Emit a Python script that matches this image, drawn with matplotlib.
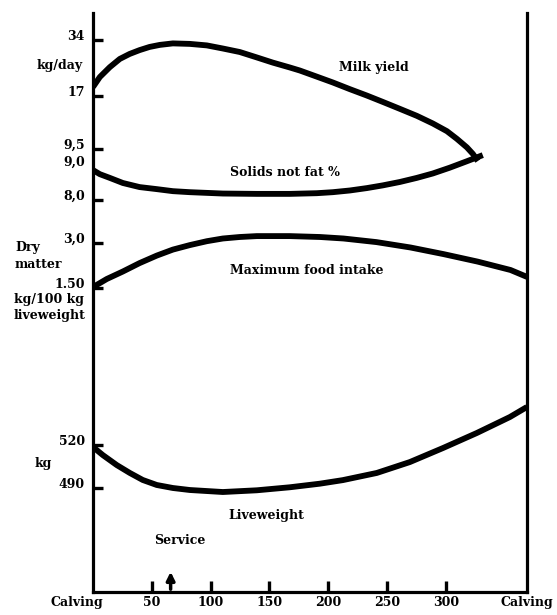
import numpy as np
import matplotlib.pyplot as plt
from matplotlib.transforms import ScaledTranslation

# Lactation cycle of a dairy cow, calving to calving (days)
milk_days = [0, 5.8, 14.3, 22.8, 31.1, 39.6, 48.1, 56.8, 67.9, 82.3, 96.8, 110.4, 124.8, 139.3, 152.9,
             167.3, 175.9, 190.3, 203.9, 218.4, 232.8, 246.4, 260.9, 275.3, 288.9, 300.9, 309.4, 317.9, 323.0, 327.2]
milk_yield = [19.0, 21.5, 24.3, 26.9, 28.6, 30.0, 31.2, 32.0, 32.6, 32.4, 31.8, 30.6, 29.3, 27.4, 25.7,
              24.2, 23.3, 21.6, 20.1, 18.5, 17.1, 15.8, 14.5, 13.3, 12.1, 11.0, 10.0, 9.0, 8.3, 7.6]

snf_days = [0, 5.8, 14.3, 25.4, 39.6, 54.2, 67.9, 82.3, 110.4, 139.3, 167.3, 190.3, 203.9, 218.4,
            232.8, 246.4, 260.9, 275.3, 288.9, 303.3, 317.9, 331.4]
snf_pct = [8.88, 8.76, 8.65, 8.50, 8.38, 8.32, 8.26, 8.23, 8.19, 8.18, 8.18, 8.20, 8.23, 8.28,
           8.35, 8.43, 8.53, 8.65, 8.78, 8.95, 9.14, 9.32]

intake_days = [0, 11.7, 25.4, 39.6, 54.2, 67.9, 82.3, 96.8, 110.4, 124.8, 139.3, 167.3, 193, 213,
               241, 270, 298, 327, 355, 369]
food_intake = [1.53, 1.8, 2.05, 2.33, 2.58, 2.78, 2.93, 3.06, 3.15, 3.2, 3.23, 3.23, 3.2, 3.15,
               3.03, 2.85, 2.63, 2.38, 2.1, 1.87]

weight_days = [0, 8.3, 20.2, 31.3, 42.3, 54.2, 67.9, 82.3, 110.4, 139.3, 167.3, 192.8, 212.4,
               241.3, 269.4, 297.6, 326.4, 354.4, 368.9]
liveweight = [518.6, 513.0, 506.0, 500.5, 495.6, 492.1, 490.0, 488.6, 487.2, 488.4, 490.5, 493.0, 495.5,
              500.5, 508.1, 517.9, 528.4, 539.5, 546.5]

service_day = 66
cycle_end = 369
day_ticks = [50, 100, 150, 200, 250, 300]

milk_ticks, milk_labels = [34, 17], ["34", "17"]
snf_ticks, snf_labels = [9.5, 9.0, 8.0], ["9,5", "9,0", "8,0"]
intake_ticks, intake_labels = [3.0, 1.5], ["3,0", "1.50"]
weight_ticks, weight_labels = [520, 490], ["520", "490"]

plt.rcParams['font.family'] = 'DejaVu Serif'
plt.rcParams['font.weight'] = 'bold'
plt.rcParams['font.size'] = 9

W, H = 557, 615
fig = plt.figure(figsize=(W / 100, H / 100), dpi=100)
# plot box in pixels: left 93, right 527, top 13, bottom 592
rect = [93 / W, (H - 592) / H, 434 / W, 579 / H]
ax = fig.add_axes(rect)
ax.set_xlim(0, cycle_end)
ax.set_ylim(0, 1)
ax.spines['top'].set_visible(False)
for s in ['left', 'right', 'bottom']:
    ax.spines[s].set_linewidth(2.3)
ax.set_yticks([])
ax.set_xticks([0] + day_ticks + [cycle_end], ["Calving"] + [str(d) for d in day_ticks] + ["Calving"])
ax.tick_params(axis='x', direction='in', length=8, width=2.4, pad=3)
ticks = ax.xaxis.get_major_ticks()
ticks[0].tick1line.set_visible(False)
ticks[-1].tick1line.set_visible(False)
lab = ax.get_xticklabels()[0]
lab.set_transform(lab.get_transform() + ScaledTranslation(-0.16, 0, fig.dpi_scale_trans))


def frac(py):
    # pixel row (from top) -> fraction of the plot box height
    return (592 - py) / 579


def band(ticks, labels, pix, log=False):
    # extra axes on top of the main one, with its own y scale
    b = fig.add_axes(rect, sharex=ax)
    b.patch.set_visible(False)
    for s in b.spines.values():
        s.set_visible(False)
    f1, f2 = frac(pix[0]), frac(pix[-1])
    v1, v2 = ticks[0], ticks[-1]
    if log:
        b.set_yscale('log')
        v1, v2 = np.log(v1), np.log(v2)
    k = (v2 - v1) / (f2 - f1)
    lo, hi = v1 - f1 * k, v1 + (1 - f1) * k
    if log:
        lo, hi = np.exp(lo), np.exp(hi)
    b.set_ylim(lo, hi)
    b.set_yticks(ticks, labels)
    b.yaxis.set_minor_locator(plt.NullLocator())
    b.tick_params(axis='y', direction='in', length=7, width=2.4, pad=6)
    # labels sit a little above their tick marks in the original
    for t in b.get_yticklabels():
        t.set_transform(t.get_transform() + ScaledTranslation(0, 0.05, fig.dpi_scale_trans))
    b.tick_params(axis='x', bottom=False, labelbottom=False)
    return b


lw = 4.2
style = dict(color='k', lw=lw, solid_capstyle='butt', solid_joinstyle='round')

b_milk = band(milk_ticks, milk_labels, [40, 96], log=True)
b_milk.plot(milk_days, milk_yield, **style)

b_snf = band(snf_ticks, snf_labels, [149, 200])
b_snf.yaxis.get_major_ticks()[1].tick1line.set_visible(False)
b_snf.plot(snf_days, snf_pct, **style)

b_int = band(intake_ticks, intake_labels, [243, 288])
b_int.plot(intake_days, food_intake, **style)

b_wt = band(weight_ticks, weight_labels, [445, 488])
b_wt.plot(weight_days, liveweight, **style)

# curve names
ax.text(239, frac(67), "Milk yield", ha='center', va='center')
ax.text(163, frac(172), "Solids not fat %", ha='center', va='center')
ax.text(182, frac(270), "Maximum food intake", ha='center', va='center')
ax.text(147, frac(515), "Liveweight", ha='center', va='center')

# service marker
ax.annotate("", xy=(service_day, frac(569)), xytext=(service_day, 0),
            arrowprops=dict(arrowstyle='-|>', color='k', lw=2.5, mutation_scale=12))
ax.text(74, frac(541), "Service", ha='center', va='center')

# unit labels on the left
fig.text(60 / W, 1 - 66 / H, "kg/day", ha='center', va='center')
fig.text(15 / W, 1 - 256 / H, "Dry\nmatter", ha='left', va='center', linespacing=1.3)
fig.text(14 / W, 1 - 308 / H, "kg/100 kg\nliveweight", ha='left', va='center', linespacing=1.3)
fig.text(43 / W, 1 - 463 / H, "kg", ha='center', va='center')

fig.savefig("out.png", dpi=100)
